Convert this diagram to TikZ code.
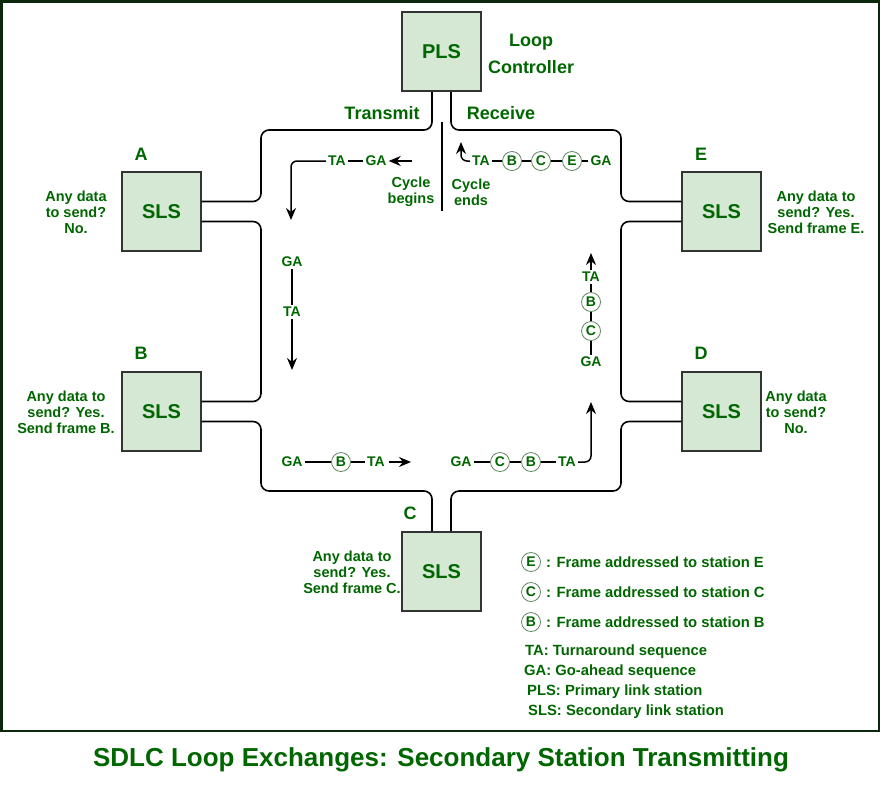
\documentclass[tikz,border=0pt]{standalone}
\usepackage{fontspec}
\setmainfont{Liberation Sans}
\usepackage{xcolor}
\usepackage{tikz}
\usetikzlibrary{arrows.meta,positioning}

\definecolor{txtgreen}{RGB}{0,102,0}
\definecolor{boxfill}{RGB}{213,232,212}
\definecolor{boxline}{RGB}{51,51,51}
\definecolor{ringline}{RGB}{95,135,95}
\definecolor{framecol}{RGB}{12,40,12}

\begin{document}
\begin{tikzpicture}[x=1pt,y=-1pt,
  station/.style={draw=boxline,line width=1.6pt,fill=boxfill,minimum size=79pt,inner sep=0pt,
    text=txtgreen,font=\fontsize{20}{24}\selectfont\bfseries},
  bigtxt/.style={text=txtgreen,font=\fontsize{18}{27}\selectfont\bfseries,align=center,inner sep=0pt},
  note/.style={text=txtgreen,font=\fontsize{14.5}{16}\selectfont\bfseries,align=center,inner sep=0pt},
  seq/.style={text=txtgreen,font=\fontsize{14}{16}\selectfont\bfseries,inner sep=2pt},
  keytxt/.style={text=txtgreen,font=\fontsize{14.8}{16}\selectfont\bfseries,inner sep=0pt,anchor=west},
  frm/.style={circle,draw=ringline,line width=0.8pt,fill=white,minimum size=19pt,inner sep=0pt,
    text=txtgreen,font=\fontsize{14}{16}\selectfont\bfseries},
  loopline/.style={line width=1.6pt,rounded corners=8pt},
  link/.style={line width=1.2pt},
  flow/.style={line width=1.5pt,-{Stealth[length=12pt,width=10pt]},rounded corners=6pt}]
\useasboundingbox (0,0) rectangle (882,793);

% Frame
\draw[framecol,line width=2.5pt] (1.5,1.5) rectangle (879,731);

% Title
\node[text=txtgreen,font=\fontsize{26}{30}\selectfont\bfseries] (title) at (441,760)
  {SDLC Loop Exchanges: Secondary Station Transmitting};

% Stations
\node[station] (pls) at (441.5,51.5) {PLS};
\node[station] (sa) at (161.5,211.5) {SLS};
\node[station] (sb) at (161.5,411.5) {SLS};
\node[station] (sc) at (441.5,571.5) {SLS};
\node[station] (sd) at (721.5,411.5) {SLS};
\node[station] (se) at (721.5,211.5) {SLS};

% Station letters
\node[bigtxt] (la) at (141,154) {A};
\node[bigtxt] (lb) at (141,353) {B};
\node[bigtxt] (lc) at (410,513) {C};
\node[bigtxt] (ld) at (701,353) {D};
\node[bigtxt] (le) at (701,154) {E};
\node[bigtxt] (ctrl) at (531,54) {Loop\\Controller};
\node[bigtxt] (tx) at (382,113) {Transmit};
\node[bigtxt] (rx) at (501,113) {Receive};

% Station questions
\node[note] (qa) at (76,212) {Any data\\to send?\\No.};
\node[note] (qb) at (66,412) {Any data to\\send? Yes.\\Send frame B.};
\node[note] (qc) at (352,572) {Any data to\\send? Yes.\\Send frame C.};
\node[note] (qd) at (796,412) {Any data\\to send?\\No.};
\node[note] (qe) at (816,212) {Any data to\\send? Yes.\\Send frame E.};

% Loop
\draw[loopline] ([xshift=-9.5pt]pls.south) |- (261,130) |- ([yshift=10pt]sa.east);
\draw[loopline] ([yshift=-10pt]sa.east) -| (261,300) |- ([yshift=10pt]sb.east);
\draw[loopline] ([yshift=-10pt]sb.east) -| (261,491) -| ([xshift=-9.5pt]sc.north);
\draw[loopline] ([xshift=9.5pt]sc.north) |- (621,491) |- ([yshift=-10pt]sd.west);
\draw[loopline] ([yshift=10pt]sd.west) -| (621,300) |- ([yshift=-10pt]se.west);
\draw[loopline] ([yshift=10pt]se.west) -| (621,130) -| ([xshift=9.5pt]pls.south);

% Cycle begins / ends
\draw[line width=1.2pt] (442,122) -- (442,211);
\node[note] (cb) at (411,192) {Cycle\\begins};
\node[note] (ce) at (471,192) {Cycle\\ends};

% Poll going out
\coordinate (p0) at (412,161);
\node[seq] (ga1) at (376,161) {GA};
\node[seq] (ta1) at (337,161) {TA};
\coordinate (p1) at (291,220);
\draw[flow] (p0) -- (ga1.east);
\draw[link] (ga1) -- (ta1);
\draw[flow] (ta1.west) -| (p1);

% Down the left side
\node[seq] (ga2) at (292,262) {GA};
\node[seq] (ta2) at (292,312) {TA};
\coordinate (p2) at (292,370);
\draw[link] (ga2) -- (ta2);
\draw[flow] (ta2.south) -- (p2);

% Along the bottom
\node[seq] (ga3) at (292,462) {GA};
\node[frm] (fb1) at (341,462) {B};
\node[seq] (ta3) at (376,462) {TA};
\coordinate (p3) at (411,462);
\draw[link] (ga3) -- (fb1) -- (ta3);
\draw[flow] (ta3.east) ++(2,0) -- (p3);

\node[seq] (ga4) at (461,462) {GA};
\node[frm] (fc1) at (500,462) {C};
\node[frm] (fb2) at (531,462) {B};
\node[seq] (ta4) at (567,462) {TA};
\coordinate (p4) at (591,402);
\draw[link] (ga4) -- (fc1) -- (fb2) -- (ta4);
\draw[flow] (ta4.east) -| (p4);

% Up the right side
\node[seq] (ga5) at (591,362) {GA};
\node[frm] (fc2) at (591,331) {C};
\node[frm] (fb3) at (591,302) {B};
\node[seq] (ta5) at (591,277) {TA};
\coordinate (p5) at (591,253);
\draw[link] (ga5) -- (fc2) -- (fb3) -- (ta5);
\draw[flow] (ta5.north) -- (p5);

% Back to the controller
\node[seq] (ga6) at (601,161) {GA};
\node[frm] (fe1) at (572,161) {E};
\node[frm] (fc3) at (541,161) {C};
\node[frm] (fb4) at (512,161) {B};
\node[seq] (ta6) at (481,161) {TA};
\coordinate (p6) at (461,142);
\draw[link] (ga6) -- (fe1) -- (fc3) -- (fb4) -- (ta6);
\draw[flow] (ta6.west) -| (p6);

% Legend
\node[frm] (ke) at (531,562) {E};
\node[frm] (kc) at (531,592) {C};
\node[frm] (kb) at (531,622) {B};
\node[keytxt] (te) at (546,562) {: Frame addressed to station E};
\node[keytxt] (tc) at (546,592) {: Frame addressed to station C};
\node[keytxt] (tb) at (546,622) {: Frame addressed to station B};
\node[keytxt] (kta) at (525,652) {TA: Turnaround sequence};
\node[keytxt] (kga) at (524,672) {GA: Go-ahead sequence};
\node[keytxt] (kpls) at (527,692) {PLS: Primary link station};
\node[keytxt] (ksls) at (528,712) {SLS: Secondary link station};

\end{tikzpicture}
\end{document}
